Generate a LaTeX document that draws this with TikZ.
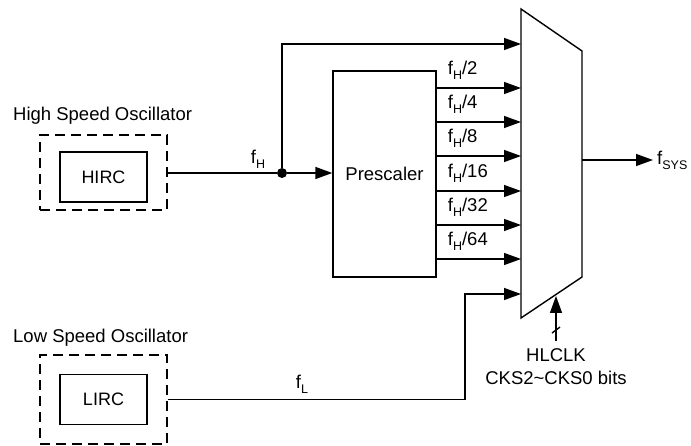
\documentclass[tikz,border=0pt]{standalone}
\usepackage{fontspec}
\setmainfont{Liberation Sans}
\usetikzlibrary{arrows.meta}

\newcommand{\fsub}[1]{f\raisebox{-0.5ex}{\fontsize{12.5}{12.5}\selectfont #1}}

\tikzset{
  sig/.style = {line width=1.4pt},
  arr/.style = {sig, -{Triangle[length=17pt, width=12pt]}},
  oscbox/.style = {draw, line width=1.4pt, dash pattern=on 10pt off 6pt, minimum width=127pt},
  srcbox/.style = {draw, line width=1.4pt, minimum width=87pt, minimum height=50pt, font=\fontsize{18}{18}\selectfont},
  lbl/.style = {font=\fontsize{18.5}{18.5}\selectfont, inner sep=0pt},
}

\begin{document}
\begin{tikzpicture}[x=1pt, y=-1pt]
  \useasboundingbox (0, 0) rectangle (691, 446);

  % high speed oscillator
  \node[lbl, anchor=west] (hname) at (13, 116) {High Speed Oscillator};
  \node[oscbox, minimum height=75pt] (hosc) at (103.5, 172.5) {};
  \node[srcbox] (hirc) at (103.5, 177) {HIRC};

  % low speed oscillator
  \node[lbl, anchor=west] (lname) at (13, 338) {Low Speed Oscillator};
  \node[oscbox, minimum height=89pt] (losc) at (103.5, 399.5) {};
  \node[srcbox] (lirc) at (103.5, 399.5) {LIRC};

  % prescaler
  \node[draw, sig, minimum width=103pt, minimum height=206pt, font=\fontsize{18.5}{18.5}\selectfont] (pre) at (384.5, 174) {Prescaler};

  % multiplexer
  \coordinate (mtl) at (521, 9);
  \coordinate (mtr) at (582, 51);
  \coordinate (mbr) at (582, 277);
  \coordinate (mbl) at (521, 318);
  \draw[sig] (mtl) -- (mtr) -- (mbr) -- (mbl) -- cycle;
  \foreach \y [count=\i] in {44, 88, 122, 156, 191, 225, 259, 294}
    \coordinate (in\i) at (521, \y);

  % f_H path
  \node[circle, fill, inner sep=0pt, minimum size=10pt] (split) at (282, 173) {};
  \draw[sig] (hosc.east |- split) -- (split);
  \node[lbl] (fh) at (258, 159) {\fsub{H}};
  \draw[arr] (split) -- (split -| pre.west);
  \draw[arr] (split) |- (in1);

  % prescaler outputs
  \foreach \d [count=\i from 2] in {2, 4, 8, 16, 32, 64} {
    \draw[arr] (pre.east |- in\i) -- (in\i);
    \node[lbl, anchor=west] (div\d) at ([xshift=11pt, yshift=18pt] pre.east |- in\i) {\fsub{H}/\d};
  }

  % f_L path
  \coordinate (lbend) at (465, 0);
  \draw[arr] (losc.east) -| (lbend |- in8) -- (in8);
  \node[lbl] (fl) at (302, 384) {\fsub{L}};

  % output
  \coordinate (mout) at (582, 160);
  \coordinate (sysend) at (653, 160);
  \draw[arr] (mout) -- (sysend);
  \node[lbl, anchor=west] (fsys) at ([xshift=4pt] sysend) {\fsub{SYS}};

  % select
  \coordinate (selbot) at (556, 341);
  \coordinate (seltop) at (556, 296);
  \draw[arr] (selbot) -- (seltop);
  \draw[sig] ([xshift=-4pt, yshift=-3pt] 556, 330) -- ([xshift=4pt, yshift=3pt] 556, 330);
  \node[lbl] (hlclk) at (556, 355) {HLCLK};
  \node[lbl] (cks) at (556, 378) {CKS2\textasciitilde CKS0 bits};
\end{tikzpicture}
\end{document}
